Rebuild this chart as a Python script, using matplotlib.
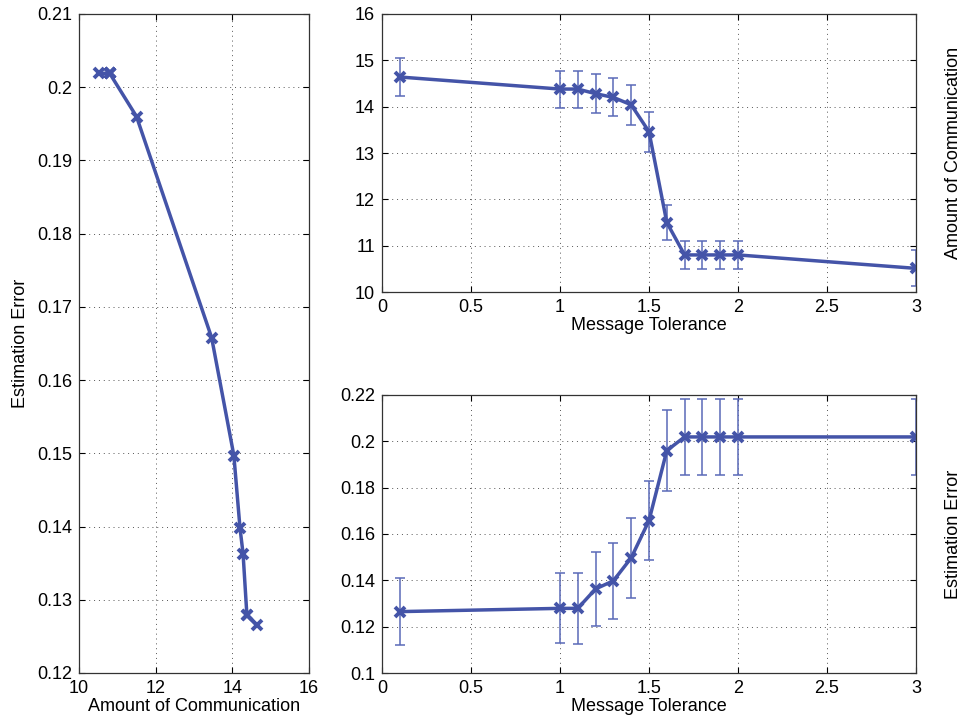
import numpy as np
import matplotlib
matplotlib.use('Agg')
import matplotlib.pyplot as plt
from matplotlib.ticker import FuncFormatter

plt.rcParams['font.family'] = ['Liberation Sans', 'DejaVu Sans']
plt.rcParams['font.size'] = 13

# datos
tolerancia = [0.1, 1.0, 1.1, 1.2, 1.3, 1.4, 1.5, 1.6, 1.7, 1.8, 1.9, 2.0, 3.0]
comunicacion = [14.64, 14.38, 14.38, 14.28, 14.20, 14.04, 13.46, 11.50, 10.80, 10.80, 10.80, 10.80, 10.51]
comunicacion_err = [0.41, 0.40, 0.40, 0.42, 0.41, 0.43, 0.43, 0.37, 0.31, 0.31, 0.31, 0.31, 0.39]
error_est = [0.1265, 0.1279, 0.1279, 0.1363, 0.1398, 0.1497, 0.1658, 0.1960, 0.2019, 0.2019, 0.2019, 0.2019, 0.2019]
error_est_err = [0.0143, 0.0151, 0.0153, 0.0160, 0.0164, 0.0173, 0.0172, 0.0175, 0.0164, 0.0164, 0.0164, 0.0164, 0.0164]

azul = '#4454A8'
azul_barra = '#5A69B8'
fmt = FuncFormatter(lambda v, p: '%g' % round(v, 6))


def estilo(ax):
    ax.tick_params(direction='in', top=True, right=True, length=4, width=0.8,
                   pad=5, labelsize=13)
    ax.grid(True, linestyle=(0, (1, 4)), color='#555555', linewidth=0.7)
    for s in ax.spines.values():
        s.set_linewidth(0.9)
        s.set_color('#333333')
    ax.xaxis.set_major_formatter(fmt)
    ax.yaxis.set_major_formatter(fmt)


fig = plt.figure(figsize=(9.62, 7.23), dpi=100)

# panel izquierdo: error vs comunicacion
ax1 = fig.add_axes([79/962, 50/723, 230/962, 659/723])
ax1.plot(comunicacion, error_est, '-x', color=azul, lw=2.5, ms=7.5, mew=2.8)
ax1.set_xlim(10, 16)
ax1.set_ylim(0.12, 0.21)
ax1.set_xticks([10, 12, 14, 16])
ax1.set_yticks(np.arange(0.12, 0.2101, 0.01))
estilo(ax1)
ax1.set_xlabel('Amount of Communication', labelpad=1)
ax1.set_ylabel('Estimation Error', labelpad=6)

# panel superior derecho
ax2 = fig.add_axes([382/962, 431/723, 534/962, 278/723])
ax2.errorbar(tolerancia, comunicacion, yerr=comunicacion_err, fmt='none',
             ecolor=azul_barra, elinewidth=1.1, capsize=3.8, capthick=1.1)
ax2.plot(tolerancia, comunicacion, '-x', color=azul, lw=2.5, ms=7.5, mew=2.8)
ax2.set_xlim(0, 3)
ax2.set_ylim(10, 16)
ax2.set_xticks(np.arange(0, 3.01, 0.5))
ax2.set_yticks(range(10, 17))
estilo(ax2)
ax2.set_xlabel('Message Tolerance', labelpad=1)
ax2.yaxis.set_label_position('right')
ax2.set_ylabel('Amount of Communication', labelpad=21)

# panel inferior derecho
ax3 = fig.add_axes([382/962, 50/723, 534/962, 278/723])
ax3.errorbar(tolerancia, error_est, yerr=error_est_err, fmt='none',
             ecolor=azul_barra, elinewidth=1.1, capsize=3.8, capthick=1.1)
ax3.plot(tolerancia, error_est, '-x', color=azul, lw=2.5, ms=7.5, mew=2.8)
ax3.set_xlim(0, 3)
ax3.set_ylim(0.1, 0.22)
ax3.set_xticks(np.arange(0, 3.01, 0.5))
ax3.set_yticks(np.arange(0.1, 0.2201, 0.02))
estilo(ax3)
ax3.set_xlabel('Message Tolerance', labelpad=1)
ax3.yaxis.set_label_position('right')
ax3.set_ylabel('Estimation Error', labelpad=21)

plt.savefig('out.png', dpi=100)
